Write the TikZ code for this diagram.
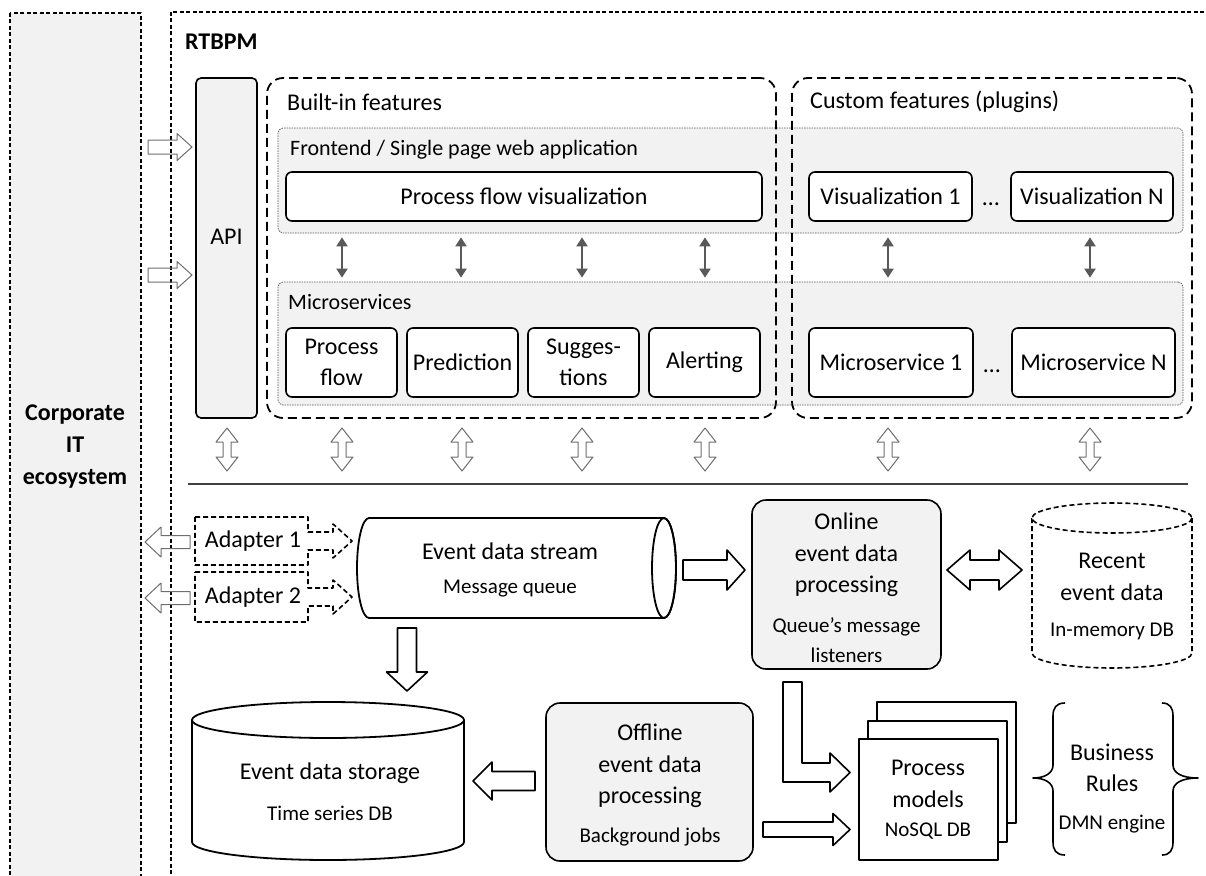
\documentclass[tikz,border=0pt]{standalone}
\usepackage{fontspec}
\setmainfont{Carlito}
\usetikzlibrary{arrows.meta}

\definecolor{panelgray}{HTML}{F2F2F2}
\definecolor{linkgray}{HTML}{595959}
\definecolor{thingray}{HTML}{6E6E6E}

\newcommand{\fmain}{\fontsize{24}{31.5}\selectfont}
\newcommand{\fsub}{\fontsize{21}{30}\selectfont}
\newcommand{\fpanel}{\fontsize{22}{26}\selectfont}
\newcommand{\fbold}{\fontsize{24}{32}\selectfont\bfseries}

% horizontal block arrow: [style]{tail x}{tip x}{y}{shaft half}{head half}{head base x}
\newcommand{\hblock}[7][]{\draw[#1] (#2,#4-#5) -- (#7,#4-#5) -- (#7,#4-#6) -- (#3,#4) -- (#7,#4+#6) -- (#7,#4+#5) -- (#2,#4+#5) -- cycle;}
% vertical block arrow: [style]{x}{tail y}{tip y}{shaft half}{head half}{head base y}
\newcommand{\vblock}[7][]{\draw[#1] (#2-#5,#3) -- (#2-#5,#7) -- (#2-#6,#7) -- (#2,#4) -- (#2+#6,#7) -- (#2+#5,#7) -- (#2+#5,#3) -- cycle;}
% vertical double block arrow: [style]{x}{top y}{bottom y}{shaft half}{head half}{head length}
\newcommand{\vdblock}[7][]{\draw[#1] (#2,#3) -- (#2+#6,#3+#7) -- (#2+#5,#3+#7) -- (#2+#5,#4-#7) -- (#2+#6,#4-#7) -- (#2,#4) -- (#2-#6,#4-#7) -- (#2-#5,#4-#7) -- (#2-#5,#3+#7) -- (#2-#6,#3+#7) -- cycle;}
% horizontal double block arrow: [style]{left x}{right x}{y}{shaft half}{head half}{head length}
\newcommand{\hdblock}[7][]{\draw[#1] (#2,#4) -- (#2+#7,#4-#6) -- (#2+#7,#4-#5) -- (#3-#7,#4-#5) -- (#3-#7,#4-#6) -- (#3,#4) -- (#3-#7,#4+#6) -- (#3-#7,#4+#5) -- (#2+#7,#4+#5) -- (#2+#7,#4+#6) -- cycle;}

\begin{document}
\begin{tikzpicture}[x=1pt,y=-1pt,line join=round,
  every node/.style={inner sep=0pt,text=black},
  box/.style={draw,line width=1.6pt,rounded corners=6pt,fill=white,align=center,font=\fmain},
  procbox/.style={draw,line width=1.6pt,rounded corners=14pt,fill=panelgray},
  feature/.style={draw,line width=1.8pt,dash pattern=on 9pt off 5pt,rounded corners=16pt},
  panel/.style={draw=black!65,line width=0.7pt,dash pattern=on 1.5pt off 1pt,fill=panelgray,rounded corners=5pt},
  outer/.style={draw,line width=1.5pt,dash pattern=on 4pt off 2.5pt},
  blk/.style={draw,line width=1.6pt,fill=white},
  thin/.style={draw=thingray,line width=1pt},
  dashblk/.style={draw,line width=1.6pt,dash pattern=on 5pt off 3pt,fill=white},
  link/.style={draw=linkgray,line width=2pt,{Triangle[length=9pt,width=11pt]}-{Triangle[length=9pt,width=11pt]}},
  txt/.style={align=center,font=\fmain},
  sub/.style={align=center,font=\fsub},
  lbl/.style={anchor=west,font=\fpanel},
]
\useasboundingbox (0,0) rectangle (1206,875);

% outer frames (running past the page edge)
\begin{scope}
  \clip (0,0) rectangle (1206,875);
  \draw[outer,fill=panelgray] (10,13) rectangle (141,890);
  \draw[outer] (171,12) rectangle (1220,890);
\end{scope}
\node[font=\fbold,align=center] (corp) at (75,447) {Corporate\\IT\\ecosystem};
\node[font=\fbold,anchor=west] (rtbpm) at (185,42) {RTBPM};

% frontend and microservice layers
\node[panel,minimum width=905,minimum height=105] (front) at (730.5,180.5) {};
\node[panel,minimum width=905,minimum height=123] (micro) at (730.5,343.5) {};

% feature groups
\node[feature,minimum width=509,minimum height=340] (builtin) at (521.5,248) {};
\node[feature,minimum width=400,minimum height=340] (custom) at (992,248) {};
\node[lbl,font=\fmain] (builtin-l) at (287,102) {Built-in features};
\node[lbl,font=\fmain] (custom-l) at (810,102) {Custom features (plugins)};
\node[lbl] (front-l) at (290,150) {Frontend / Single page web application};
\node[lbl] (micro-l) at (288,302) {Microservices};

% API
\node[box,fill=panelgray,rounded corners=5pt,minimum width=61,minimum height=340] (api) at (226.5,248) {};
\node[txt] (api-l) at (226.5,237) {API};
\hblock[thin]{148}{192}{147}{7}{13.5}{177}
\hblock[thin]{148}{192}{275}{7}{13.5}{177}

% frontend components
\node[box,minimum width=476,minimum height=49] (pfv) at (524,196.5) {Process flow visualization};
\node[box,minimum width=163,minimum height=49] (vis1) at (890.5,196.5) {Visualization 1};
\node[box,minimum width=162,minimum height=49] (visn) at (1092,196.5) {Visualization N};
\node[txt] (visdots) at (991,204) {…};

% microservices
\begin{scope}[every node/.append style={font=\fontsize{24}{28}\selectfont}]
\node[box,minimum width=111,minimum height=69] (mflow) at (341.5,362.5) {Process\\flow};
\node[box,minimum width=111,minimum height=69] (mpred) at (462.5,362.5) {Prediction};
\node[box,minimum width=111,minimum height=69] (msugg) at (583.5,362.5) {Sugges-\\tions};
\node[box,minimum width=111,minimum height=69] (malert) at (704.5,362.5) {Alerting};
\node[box,minimum width=164,minimum height=69] (m1) at (891,362.5) {Microservice 1};
\node[box,minimum width=163,minimum height=69] (mn) at (1093.5,362.5) {Microservice N};
\node[txt] (mdots) at (992,371) {…};
\end{scope}

% frontend <-> microservice links
\foreach \lx in {342,461,582,705,888,1090}
  \draw[link,shorten >=4pt,shorten <=4pt] (front.south -| \lx,0) -- (micro.north -| \lx,0);

% links down to the data layer
\foreach \lx in {227,342,462,582,705,888,1090}
  \vdblock[thin,fill=white]{\lx}{428}{471}{4}{11}{14}
\coordinate (sep-l) at (188,484);
\coordinate (sep-r) at (1188,484);
\draw[draw=black!75,line width=1.2pt] (sep-l) -- (sep-r);

% adapters
\draw[dashblk] (195,517) -- (308,517) -- (308,532) -- (333,532) -- (333,524) -- (352,541) -- (333,558) -- (333,550) -- (308,550) -- (308,565) -- (195,565) -- cycle;
\draw[dashblk] (195,572) -- (308,572) -- (308,588) -- (333,588) -- (333,580) -- (352,597) -- (333,614) -- (333,606) -- (308,606) -- (308,622) -- (195,622) -- cycle;
\node[txt] (ad1) at (253,541) {Adapter 1};
\node[txt] (ad2) at (253,597) {Adapter 2};
\hblock[thin]{190}{145}{542}{6.5}{15}{161}
\hblock[thin]{190}{145}{598}{6.5}{15}{161}

% event data stream (message queue)
\draw[blk,line width=1.8pt] (369,518) -- (664,518) arc (-90:90:12 and 50) -- (369,618) arc (90:270:12 and 50) -- cycle;
\draw[line width=1.8pt] (664,568) ellipse [x radius=12, y radius=50];
\node[txt] (stream) at (510,551) {Event data stream};
\node[sub] (stream-s) at (510,589) {Message queue};

\hblock[blk]{683}{745}{570}{10}{20}{727}

% online processing
\node[procbox,minimum width=189,minimum height=169] (online) at (846.5,584.5) {};
\node[txt] (online-t) at (846.5,555) {Online\\event data\\processing};
\node[sub] (online-s) at (846.5,640) {Queue’s message\\listeners};

\hdblock[blk]{947}{1022}{570}{10}{20}{23}

% recent event data (in-memory)
\draw[dashblk] (1032,518) -- (1032,653) arc (180:0:80 and 15) -- (1192,518);
\draw[dashblk] (1112,518) ellipse [x radius=80, y radius=15];
\node[txt] (recent) at (1112,577) {Recent\\event data};
\node[sub] (recent-s) at (1112,631) {In-memory DB};

% event data storage
\vblock[blk]{407}{628}{691}{9.5}{20.5}{672}
\draw[blk,line width=1.8pt] (192,720) -- (192,842) arc (180:0:136 and 18) -- (464,720);
\draw[line width=1.8pt] (328,720) ellipse [x radius=136, y radius=18];
\node[txt] (storage) at (330,773) {Event data storage};
\node[sub] (storage-s) at (330,813) {Time series DB};

% offline processing
\node[procbox,minimum width=207,minimum height=158] (offline) at (649.5,782) {};
\node[txt] (offline-t) at (650,766) {Offline\\event data\\processing};
\node[sub] (offline-s) at (650,837) {Background jobs};
\hblock[blk]{535}{473}{781}{9.5}{19}{492}

% process models
\draw[blk] (877,702) rectangle (1016,823);
\draw[blk] (868,721) rectangle (1007,842);
\node[draw,line width=1.6pt,fill=white,minimum width=139,minimum height=121] (models) at (928.5,799.5) {};
\node[txt] (models-t) at (928,784) {Process\\models};
\node[sub] (models-s) at (928,831) {NoSQL DB};
\draw[blk] (783,682) -- (802,682) -- (802,763) -- (830,763) -- (830,753) -- (850,772.5) -- (830,792) -- (830,782) -- (783,782) -- cycle;
\hblock[blk]{763}{850}{829.5}{7.5}{16}{833}

% business rules
\draw[line width=1.6pt] (1065,703) .. controls (1056,703) and (1053,708) .. (1053,716) -- (1053,765)
  .. controls (1053,773) and (1045,778) .. (1033,778) .. controls (1045,778) and (1053,783) .. (1053,791)
  -- (1053,842) .. controls (1053,850) and (1056,855) .. (1065,855);
\draw[line width=1.6pt] (1162,703) .. controls (1170,703) and (1173,708) .. (1173,716) -- (1173,765)
  .. controls (1173,773) and (1182,778) .. (1198,778) .. controls (1182,778) and (1173,783) .. (1173,791)
  -- (1173,842) .. controls (1173,850) and (1170,855) .. (1162,855);
\node[txt] (rules) at (1112,768) {Business\\Rules};
\node[sub] (rules-s) at (1112,824) {DMN engine};
\end{tikzpicture}
\end{document}
